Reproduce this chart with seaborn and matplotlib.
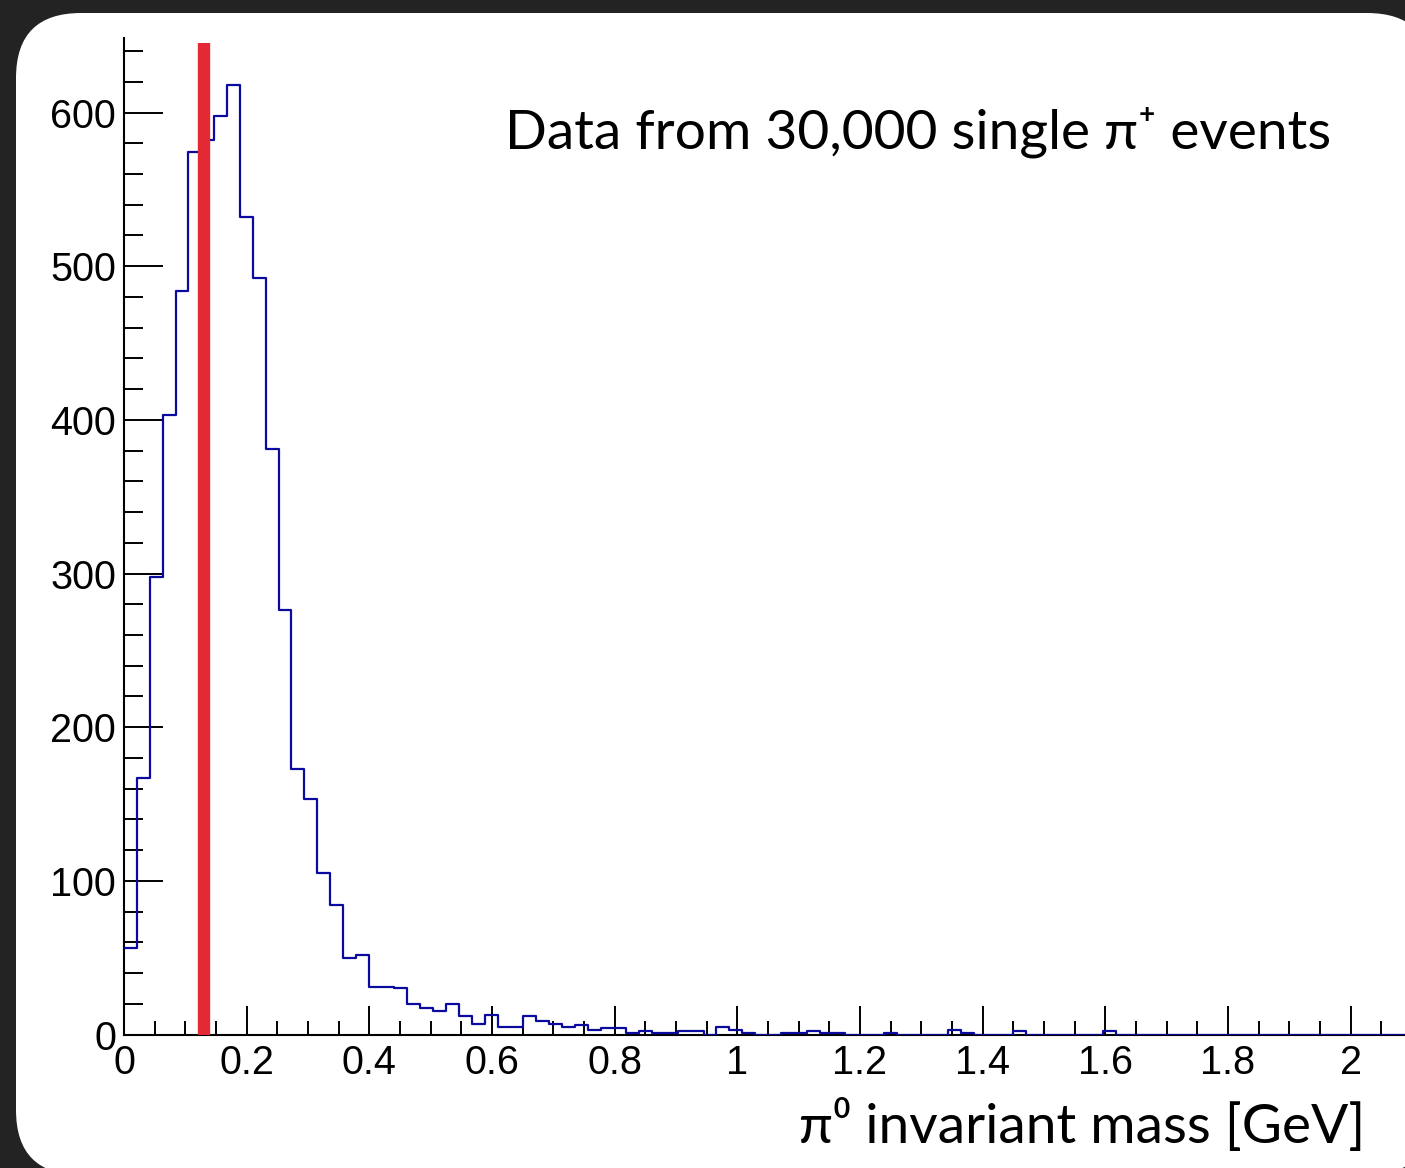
import numpy as np
import pandas as pd
import matplotlib
matplotlib.use("Agg")
import matplotlib.pyplot as plt
import seaborn as sns
from matplotlib.patches import FancyBboxPatch
from matplotlib.transforms import IdentityTransform
from matplotlib.ticker import MultipleLocator, FuncFormatter

# Histogram: 100 bins on [0, 2.1] GeV
bin_lo = 0.0
bin_hi = 2.1
n_bins = 100
counts = [
    56, 167, 298, 403, 484, 574, 582, 598, 618, 532,
    492, 381, 276, 173, 153, 105, 84, 50, 52, 31,
    31, 30, 20, 17, 15, 20, 12, 7, 13, 5,
    5, 12, 9, 7, 5, 6, 3, 4, 4, 1,
    2, 1, 1, 2, 2, 0, 5, 3, 1, 0,
    0, 1, 1, 2, 1, 1, 0, 0, 0, 1,
    0, 0, 0, 0, 3, 1, 0, 0, 0, 2,
    0, 0, 0, 0, 0, 0, 2, 0, 0, 0,
    0, 0, 0, 0, 0, 0, 0, 0, 0, 0,
    0, 0, 0, 0, 0, 0, 0, 0, 0, 0,
]
pi0_mass = 0.13          # position of the reference line [GeV]
pi0_line_top = 645       # height of the reference line
y_max = 648.5

x_ticks_major = [0, 0.2, 0.4, 0.6, 0.8, 1.0, 1.2, 1.4, 1.6, 1.8, 2.0]
y_ticks_major = [0, 100, 200, 300, 400, 500, 600]

annotation = "Data from 30,000 single π⁺ events"
x_title = "π⁰ invariant mass [GeV]"

edges = np.linspace(bin_lo, bin_hi, n_bins + 1)
centers = 0.5 * (edges[:-1] + edges[1:])
hist_df = pd.DataFrame({"mass": centers, "count": counts})

sns.set_style("ticks")
plt.rcParams["font.family"] = ["Liberation Sans", "DejaVu Sans"]

W, H, DPI = 1405, 1168, 100
fig = plt.figure(figsize=(W / DPI, H / DPI), dpi=DPI)
fig.patch.set_facecolor("#232323")

# White rounded card behind the plot (pixel coordinates)
card = FancyBboxPatch((16, -7), 1416, 1162,
                      boxstyle="round,pad=0,rounding_size=65",
                      transform=IdentityTransform(),
                      facecolor="white", edgecolor="none", zorder=-1)
fig.add_artist(card)

left_px, right_px, bottom_px, top_px = 124, 1412, 1034.5, 38
ax = fig.add_axes([left_px / W, (H - bottom_px) / H,
                   (right_px - left_px) / W, (bottom_px - top_px) / H])
ax.set_facecolor("none")

sns.histplot(data=hist_df, x="mass", weights="count", bins=n_bins,
             binrange=(bin_lo, bin_hi), element="step", fill=False,
             color="#0a0a9e", linewidth=1.6, ax=ax, zorder=3)

ax.vlines(pi0_mass, 0, pi0_line_top, color="#e32934", linewidth=8.9,
          zorder=4)

ax.set_xlim(bin_lo, bin_hi)
ax.set_ylim(0, y_max)

sns.despine(ax=ax)
for side in ("left", "bottom"):
    ax.spines[side].set_linewidth(1.5)
    ax.spines[side].set_color("black")

ax.xaxis.set_minor_locator(MultipleLocator(0.05))
ax.yaxis.set_minor_locator(MultipleLocator(20))
ax.set_xticks(x_ticks_major)
ax.set_yticks(y_ticks_major)
ax.xaxis.set_major_formatter(FuncFormatter(lambda v, p: f"{v:g}"))
ax.yaxis.set_major_formatter(FuncFormatter(lambda v, p: f"{v:g}"))

ax.tick_params(axis="both", which="both", direction="in", width=1.4,
               color="black", labelsize=28.5, labelcolor="black")
ax.tick_params(axis="y", which="major", length=27.9, pad=5.8)
ax.tick_params(axis="y", which="minor", length=13.7)
ax.tick_params(axis="x", which="major", length=20.9, pad=6.5)
ax.tick_params(axis="x", which="minor", length=10.4)

text_font = ["Lato", "Noto Sans", "DejaVu Sans"]
ax.set_ylabel("")
ax.set_xlabel(x_title, fontsize=39.7, family=text_font, ha="right",
              va="baseline", color="black")
ax.xaxis.set_label_coords((1365 - left_px) / (right_px - left_px),
                          ((H - 1143) - (H - bottom_px)) / (bottom_px - top_px))

ax.text((505 - left_px) / (right_px - left_px),
        ((H - 148) - (H - bottom_px)) / (bottom_px - top_px),
        annotation, transform=ax.transAxes, fontsize=39.7, family=text_font,
        ha="left", va="baseline", color="black")

fig.savefig("out.png", dpi=DPI, facecolor=fig.get_facecolor())
